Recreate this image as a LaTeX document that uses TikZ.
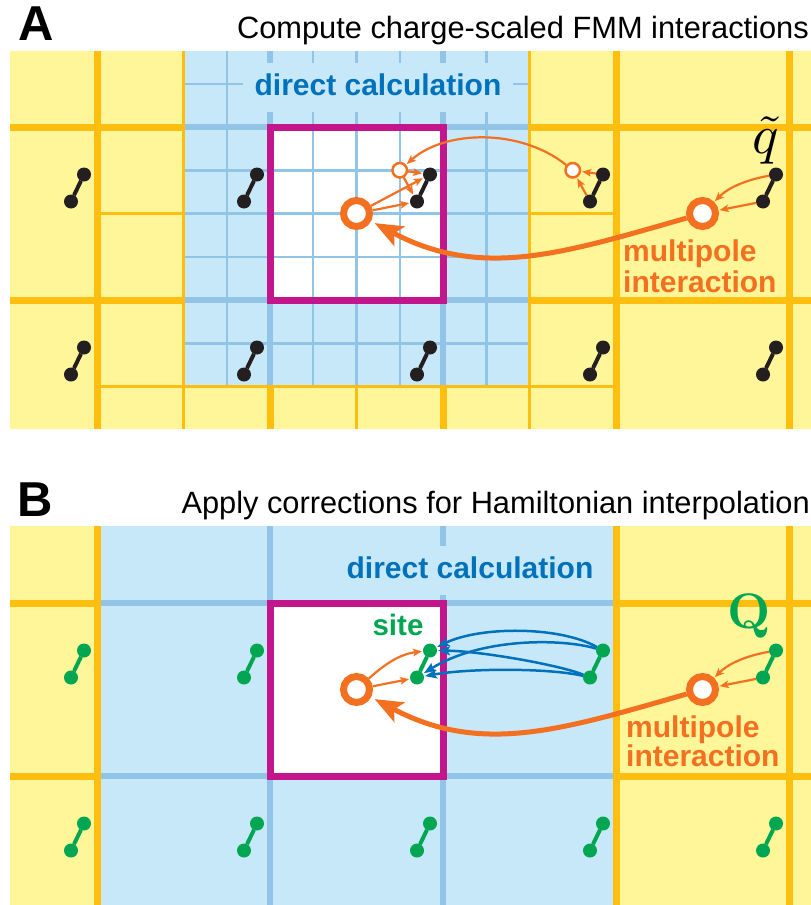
\documentclass[tikz,border=0pt]{standalone}
\usepackage[no-math]{fontspec}
\setmainfont{Liberation Sans}
\usetikzlibrary{arrows.meta}
\definecolor{yfill}{RGB}{255,245,153}
\definecolor{yline}{RGB}{253,190,16}
\definecolor{bfill}{RGB}{199,232,249}
\definecolor{bline}{RGB}{146,196,232}
\definecolor{mag}{RGB}{196,22,140}
\definecolor{org}{RGB}{243,112,33}
\definecolor{ink}{RGB}{35,31,32}
\definecolor{grn}{RGB}{0,166,81}
\definecolor{dblue}{RGB}{0,114,188}
\newcommand\dumbbell[4]{%
  \node[atom=#4] (#1u) at ({#2+6.5},{#3-13.5}) {};
  \node[atom=#4] (#1l) at ({#2-6.5},{#3+13.5}) {};
  \draw[bondline=#4] (#1u) -- (#1l);}
\begin{document}
\begin{tikzpicture}[x=1pt,y=-1pt,
  yk/.style={draw=yline,line width=7pt},
  yn/.style={draw=yline,line width=3pt},
  bk/.style={draw=bline,line width=6.5pt},
  bn/.style={draw=bline,line width=2.5pt},
  magbox/.style={draw=mag,line width=7pt},
  atom/.style={circle,fill=#1,minimum size=14pt,inner sep=0pt,outer sep=0pt},
  bondline/.style={draw=#1,line width=4pt},
  bigring/.style={circle,draw=org,fill=white,line width=7pt,minimum size=26pt,inner sep=0pt},
  smallring/.style={circle,draw=org,fill=white,line width=2.5pt,minimum size=14.5pt,inner sep=0pt},
  oarr/.style={draw=org,line width=2.2pt,-{Stealth[length=9pt,width=7.5pt,inset=2pt]},shorten >=1pt},
  barr/.style={draw=dblue,line width=2.5pt,-{Stealth[length=12pt,width=9pt,inset=2.5pt]},shorten >=1pt},
  bigarr/.style={draw=org,line width=5pt,-{Stealth[length=28pt,width=22pt,inset=6pt]},shorten >=4pt},
  dclabel/.style={fill=bfill,text=dblue,font=\fontsize{30}{30}\selectfont\bfseries,inner xsep=12pt,inner ysep=0pt,text height=32pt,text depth=17pt,anchor=base},
  mplabel/.style={text=org,font=\fontsize{30}{30}\selectfont\bfseries,inner sep=0pt,anchor=base west},
  ttl/.style={font=\fontsize{30.8}{31}\selectfont,inner sep=0pt,anchor=base east},
  plabel/.style={font=\fontsize{49}{49}\selectfont\bfseries,inner sep=0pt,anchor=base west}
]
\useasboundingbox (0,0) rectangle (811,905);

% ================= Panel A =================
\fill[yfill] (10,51) rectangle (811,429);
\fill[bfill] (183.5,51) rectangle (529,386.5);
\fill[white] (270,127) rectangle (443,300);
\foreach \xx in {226.75,313,356.5,399.75,486.25} \draw[bn] (\xx,51) -- (\xx,386.5);
\foreach \yy in {83.75,170.25,213.5,256.75,343.25} \draw[bn] (183.5,\yy) -- (529,\yy);
\foreach \xx in {270,443} \draw[bk] (\xx,51) -- (\xx,386.5);
\foreach \yy in {127,300} \draw[bk] (183.5,\yy) -- (529,\yy);
\foreach \xx in {97,616,789} \draw[yk] (\xx,51) -- (\xx,429);
\foreach \xx in {270,443} \draw[yk] (\xx,386.5) -- (\xx,429);
\foreach \yy in {127,300} {\draw[yk] (10,\yy) -- (183.5,\yy); \draw[yk] (529,\yy) -- (811,\yy);}
\draw[yn] (183.5,51) -- (183.5,429);
\draw[yn] (529,51) -- (529,429);
\draw[yn] (356.5,386.5) -- (356.5,429);
\draw[yn] (97,213.5) -- (183.5,213.5);
\draw[yn] (529,213.5) -- (616,213.5);
\draw[yn] (97,386.5) -- (616,386.5);
\draw[magbox] (270,127) rectangle (443,300);
\node[dclabel] (dcA) at (378,95) {direct calculation};

\node[plabel] (labA) at (18,40) {A};
\node[ttl] (titA) at (809,38) {Compute charge-scaled FMM interactions};

\foreach \cc in {0,...,4} {
  \dumbbell{aA\cc}{77.5+173*\cc}{188}{ink}
  \dumbbell{aB\cc}{77.5+173*\cc}{361}{ink}
}
\node[bigring] (LA) at (356.5,213.5) {};
\node[bigring] (MA) at (702.5,213.5) {};
\node[smallring] (sA2) at (399.75,170.25) {};
\node[smallring] (sA3) at (572.75,170.25) {};

\draw[oarr] (aA3u) -- (sA3);
\draw[oarr] (aA3l) -- (sA3);
\draw[oarr] (sA3) .. controls (520,128) and (445,130) .. (sA2);
\draw[oarr] (sA2) -- (aA2u);
\draw[oarr] (sA2) -- (aA2l);
\draw[oarr] (LA) -- (aA2u);
\draw[oarr] (LA) -- (aA2l);
\draw[oarr] (aA4u) .. controls (745,180) and (728,188) .. (MA);
\draw[oarr] (aA4l) -- (MA);
\draw[bigarr] (MA) .. controls (564,253) and (482,280) .. (LA);

\node[mplabel] (mpA1) at (623,261) {multipole};
\node[mplabel] (mpA2) at (623,292) {interaction};
\node[scale=5.5,anchor=base,inner sep=0pt] (qt) at (766,153) {$\tilde{q}$};

% ================= Panel B =================
\fill[yfill] (10,526) rectangle (811,905);
\fill[bfill] (97,526) rectangle (616,905);
\fill[white] (270,603) rectangle (443,776);
\foreach \xx in {270,443} \draw[bk] (\xx,526) -- (\xx,905);
\foreach \yy in {603,776} \draw[bk] (97,\yy) -- (616,\yy);
\foreach \xx in {97,616,789} \draw[yk] (\xx,526) -- (\xx,905);
\foreach \yy in {603,776} {\draw[yk] (10,\yy) -- (97,\yy); \draw[yk] (616,\yy) -- (811,\yy);}
\draw[magbox] (270,603) rectangle (443,776);
\node[dclabel] (dcB) at (470,578) {direct calculation};

\node[plabel] (labB) at (17,516) {B};
\node[ttl] (titB) at (810,513) {Apply corrections for Hamiltonian interpolation};

\foreach \cc in {0,...,4} {
  \dumbbell{gA\cc}{77.5+173*\cc}{664}{grn}
  \dumbbell{gB\cc}{77.5+173*\cc}{837}{grn}
}
\node[bigring] (LB) at (356.5,689.5) {};
\node[bigring] (MB) at (702.5,689.5) {};

\draw[oarr] (LB) .. controls (385,664) and (400,654) .. (gA2u);
\draw[oarr] (LB) -- (gA2l);
\draw[oarr] (gA4u) .. controls (745,656) and (728,664) .. (MB);
\draw[oarr] (gA4l) -- (MB);
\draw[bigarr] (MB) .. controls (564,729) and (482,756) .. (LB);

\draw[barr] (gA3u) .. controls (560,626) and (480,626) .. (gA2u);
\draw[barr] (gA3l) .. controls (560,665) and (480,651) .. (gA2u);
\draw[barr] (gA3u) .. controls (560,638) and (480,638) .. (gA2l);
\draw[barr] (gA3l) .. controls (550,668) and (470,668) .. (gA2l);

\node[text=grn,font=\fontsize{29.5}{30}\selectfont\bfseries,anchor=base,inner sep=0pt] (site) at (398,635) {site};
\node[mplabel] (mpB1) at (626,737) {multipole};
\node[mplabel] (mpB2) at (626,766) {interaction};
\node[text=grn,scale=5,anchor=base,inner sep=0pt] (bigQ) at (749,628) {$\mathbf{Q}$};
\end{tikzpicture}
\end{document}
